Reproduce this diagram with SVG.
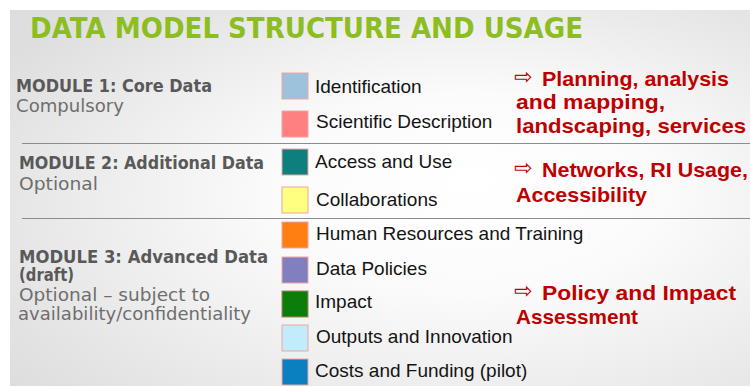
<svg xmlns="http://www.w3.org/2000/svg" width="750" height="387" viewBox="0 0 750 387">
  <defs>
    <radialGradient id="slideBg" cx="0.62" cy="0.55" r="0.75" fx="0.62" fy="0.45">
      <stop offset="0" stop-color="#ffffff"/>
      <stop offset="0.35" stop-color="#fbfbfb"/>
      <stop offset="1" stop-color="#dedede"/>
    </radialGradient>
    <style>
      .title { font-family: "DejaVu Sans", "Liberation Sans", sans-serif; font-weight: bold; font-size: 28px; fill: #8cbe22; }
      .mod { font-family: "DejaVu Sans", "Liberation Sans", sans-serif; font-weight: bold; font-size: 17px; fill: #595959; }
      .sub { font-family: "DejaVu Sans", "Liberation Sans", sans-serif; font-size: 17px; fill: #6e6e6e; }
      .item { font-family: "Liberation Sans", Arial, sans-serif; font-size: 19px; fill: #141414; }
      .use { font-family: "Liberation Sans", Arial, sans-serif; font-weight: bold; font-size: 21px; fill: #c00000; }
      .arrow { font-family: "DejaVu Sans", sans-serif; font-size: 22px; fill: #c00000; }
      .sw { stroke: #f2a3a3; stroke-width: 1; }
      .sep { stroke: #8c8c8c; stroke-width: 1.2; fill: none; }
    </style>
  </defs>

  <!-- page and slide background -->
  <rect width="750" height="387" fill="#ffffff"/>
  <rect x="10" y="10" width="740" height="376" fill="url(#slideBg)"/>

  <!-- heading -->
  <text class="title" x="30" y="38" textLength="553" lengthAdjust="spacingAndGlyphs">DATA MODEL STRUCTURE AND USAGE</text>

  <!-- row dividers -->
  <g id="separators">
    <line class="sep" x1="22" y1="143.5" x2="750" y2="143.5"/>
    <line class="sep" x1="22" y1="218.5" x2="750" y2="218.5"/>
  </g>

  <!-- module descriptions -->
  <g id="module1">
    <text class="mod" x="16" y="92" textLength="196" lengthAdjust="spacingAndGlyphs">MODULE 1: Core Data</text>
    <text class="sub" x="16" y="112" textLength="108" lengthAdjust="spacingAndGlyphs">Compulsory</text>
  </g>
  <g id="module2">
    <text class="mod" x="19" y="169" textLength="245" lengthAdjust="spacingAndGlyphs">MODULE 2: Additional Data</text>
    <text class="sub" x="19" y="190" textLength="79" lengthAdjust="spacingAndGlyphs">Optional</text>
  </g>
  <g id="module3">
    <text class="mod" x="19" y="263" textLength="249" lengthAdjust="spacingAndGlyphs">MODULE 3: Advanced Data</text>
    <text class="mod" x="19" y="281" textLength="55" lengthAdjust="spacingAndGlyphs">(draft)</text>
    <text class="sub" x="19" y="301" textLength="191" lengthAdjust="spacingAndGlyphs">Optional – subject to</text>
    <text class="sub" x="18" y="320" textLength="233" lengthAdjust="spacingAndGlyphs">availability/confidentiality</text>
  </g>

  <!-- legend of data sections -->
  <g id="identification">
    <rect class="sw" x="282" y="73" width="26" height="26" fill="#9dc3dc"/>
    <text class="item" x="315" y="93">Identification</text>
  </g>
  <g id="scientific-description">
    <rect class="sw" x="282" y="111" width="26" height="26" fill="#ff8080"/>
    <text class="item" x="316" y="128">Scientific Description</text>
  </g>
  <g id="access-and-use">
    <rect class="sw" x="282" y="149" width="26" height="26" fill="#0e7f7f"/>
    <text class="item" x="315" y="168">Access and Use</text>
  </g>
  <g id="collaborations">
    <rect class="sw" x="282" y="187" width="26" height="26" fill="#ffff80"/>
    <text class="item" x="316" y="206">Collaborations</text>
  </g>
  <g id="human-resources">
    <rect class="sw" x="282" y="222" width="26" height="26" fill="#ff8010"/>
    <text class="item" x="316" y="240">Human Resources and Training</text>
  </g>
  <g id="data-policies">
    <rect class="sw" x="282" y="257" width="26" height="26" fill="#8080c0"/>
    <text class="item" x="316" y="275">Data Policies</text>
  </g>
  <g id="impact">
    <rect x="282" y="291" width="26" height="26" fill="#0b7d0b" stroke="#b08060" stroke-width="1"/>
    <text class="item" x="315" y="308">Impact</text>
  </g>
  <g id="outputs">
    <rect class="sw" x="282" y="325" width="26" height="26" fill="#c0ecfc"/>
    <text class="item" x="316" y="343">Outputs and Innovation</text>
  </g>
  <g id="costs">
    <rect class="sw" x="282" y="359" width="26" height="26" fill="#0b80c0"/>
    <text class="item" x="315" y="377">Costs and Funding (pilot)</text>
  </g>

  <!-- usage of each module: arrow glyph plus a multi-line statement -->
  <g id="usage1">
    <text class="arrow" x="514" y="84">⇨</text>
    <text class="use" x="542" y="85.5" textLength="187" lengthAdjust="spacingAndGlyphs">Planning, analysis</text>
    <text class="use" x="516" y="108.5" textLength="149" lengthAdjust="spacingAndGlyphs">and mapping,</text>
    <text class="use" x="516" y="133" textLength="230" lengthAdjust="spacingAndGlyphs">landscaping, services</text>
  </g>
  <g id="usage2">
    <text class="arrow" x="514" y="175">⇨</text>
    <text class="use" x="542" y="177" textLength="206" lengthAdjust="spacingAndGlyphs">Networks, RI Usage,</text>
    <text class="use" x="516" y="202" textLength="131" lengthAdjust="spacingAndGlyphs">Accessibility</text>
  </g>
  <g id="usage3">
    <text class="arrow" x="514" y="298">⇨</text>
    <text class="use" x="542" y="300" textLength="194" lengthAdjust="spacingAndGlyphs">Policy and Impact</text>
    <text class="use" x="516" y="324" textLength="122" lengthAdjust="spacingAndGlyphs">Assessment</text>
  </g>
</svg>
